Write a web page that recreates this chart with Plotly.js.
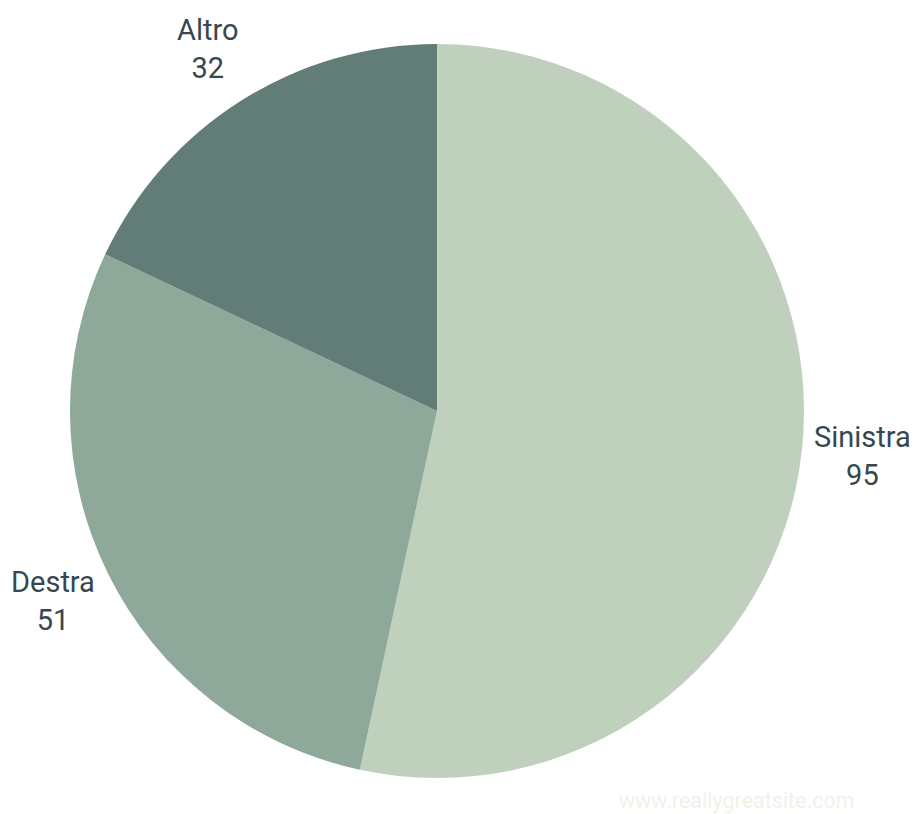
<!DOCTYPE html>
<html>
<head>
<meta charset="utf-8">
<script src="https://cdn.plot.ly/plotly-3.0.1.min.js"></script>
<style>html,body{margin:0;padding:0;background:#fff;}#chart{width:916px;height:814px;}</style>
</head>
<body>
<div id="chart"></div>
<script>
const categories = ["Sinistra", "Destra", "Altro"];
const values = [95, 51, 32];
const colors = ["#BFD1BD", "#8EA89A", "#627C77"];
const watermark = "www.reallygreatsite.com";

const W = 916, H = 814;
const dom = {x: [70/W, 804/W], y: [36/H, 770/H]};

const trace = {
  type: "pie",
  labels: categories,
  values: values,
  sort: false,
  direction: "clockwise",
  rotation: 0,
  marker: {colors: colors, line: {width: 0}},
  textinfo: "none",
  automargin: false,
  hoverinfo: "label+value",
  domain: dom,
  showlegend: false
};

// label positions derived from the slice mid-angles
const total = values.reduce((a, b) => a + b, 0);
const cx = (dom.x[0] + dom.x[1]) / 2, cy = (dom.y[0] + dom.y[1]) / 2;
const rPx = Math.min((dom.x[1] - dom.x[0]) * W, (dom.y[1] - dom.y[0]) * H) / 2;
const labelDist = rPx + 61;
let cum = 0;
const labelAnnots = categories.map((c, i) => {
  const mid = (cum + values[i] / 2) / total * 2 * Math.PI;
  cum += values[i];
  return {
    text: c + "<br>" + values[i],
    xref: "paper", yref: "paper",
    x: cx + labelDist * Math.sin(mid) / W,
    y: cy + labelDist * Math.cos(mid) / H,
    xanchor: "center", yanchor: "middle", align: "center", showarrow: false,
    font: {family: "Roboto, sans-serif", size: 29, color: "#37474F"}
  };
});

const layout = {
  width: W, height: H,
  margin: {l: 0, r: 0, t: 0, b: 0},
  paper_bgcolor: "#ffffff",
  showlegend: false,
  font: {family: "Roboto, sans-serif"},
  annotations: labelAnnots.concat([{
    text: watermark, xref: "paper", yref: "paper", x: 0.805, y: 0.016,
    xanchor: "center", yanchor: "middle", showarrow: false,
    font: {family: "Roboto, sans-serif", size: 21.5, color: "#F4F0E8"}
  }])
};

Plotly.newPlot("chart", [trace], layout, {displayModeBar: false, staticPlot: true});
</script>
</body>
</html>
